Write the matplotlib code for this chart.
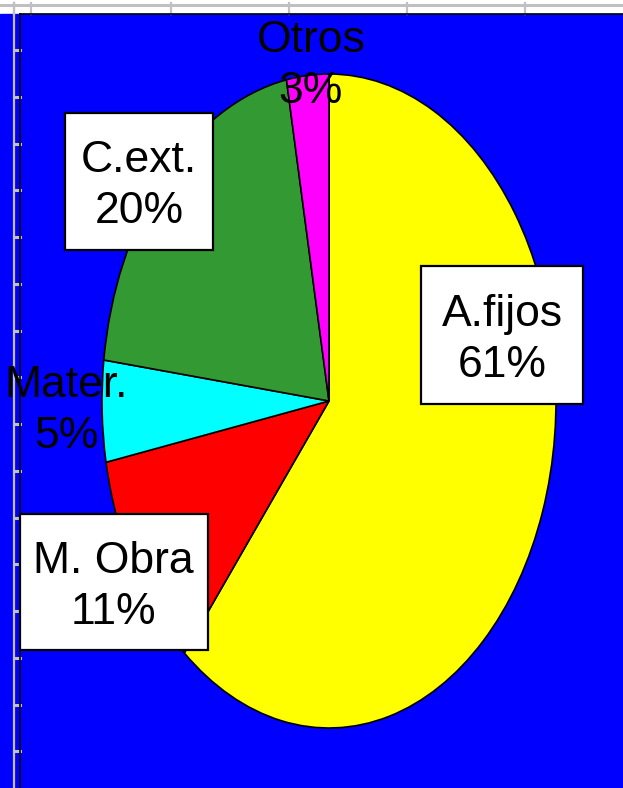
import matplotlib
matplotlib.use("Agg")
import matplotlib.pyplot as plt

# data
categories = ["A.fijos", "M. Obra", "Mater.", "C.ext.", "Otros"]
shares = [61, 11, 5, 20, 3]
slice_colors = ["#FFFF00", "#FF0000", "#00FFFF", "#339933", "#FF00FF"]

# label anchor points / box sizes in screen pixels (layout only)
label_xy = [(502, 340), (113, 587), (66, 411), (139, 186), (311, 66)]
box_wh = [(162, 138), (188, 136), None, (148, 137), None]
box_xy = [(502, 335), (114, 582), None, (139, 181), None]

W, H = 623, 788
CX, CY, RX, RY = 329, 401, 227, 327   # ellipse centre / radii in pixels
FONT = ["Liberation Sans", "DejaVu Sans"]

fig = plt.figure(figsize=(W / 100, H / 100), dpi=100)

# spreadsheet chrome behind the chart
bg = fig.add_axes([0, 0, 1, 1])
bg.set_xlim(0, W)
bg.set_ylim(H, 0)
bg.axis("off")
bg.add_patch(plt.Rectangle((0, 0), W, 14, color="white", zorder=0))
bg.add_patch(plt.Rectangle((0, 14), W, H - 14, color="#0000FF", zorder=0))
bg.plot([0, W], [5, 5], color="#C0C0C0", lw=2.2, zorder=1)
for gx in [14, 31, 171, 289, 407, 525]:
    bg.plot([gx, gx], [3, 14], color="#C0C0C0", lw=1.6, zorder=1)
bg.plot([14, 14], [3, H], color="#C0C0C0", lw=1.6, zorder=1)
ty = 50
while ty < H:
    bg.plot([14, 20], [ty, ty], color="#C0C0C0", lw=2.2, zorder=1)
    ty += 46.75
bg.plot([20, 20], [14, H], color="black", lw=1.2, zorder=2)
bg.plot([20, W], [14, 14], color="black", lw=1.2, zorder=2)

# stretched pie
ax = fig.add_axes([0, 0, 1, 1])
ax.patch.set_alpha(0)
ax.pie(shares, colors=slice_colors, startangle=90, counterclock=False,
       wedgeprops=dict(edgecolor="black", linewidth=1.2))
ax.set_aspect("auto")
ax.set_xlim(-CX / RX, (W - CX) / RX)
ax.set_ylim((CY - H) / RY, CY / RY)
ax.axis("off")

for name, pct, (lx, ly), wh, bxy in zip(categories, shares, label_xy,
                                         box_wh, box_xy):
    if wh is not None:
        bw, bh = wh
        bx, by = bxy
        ax.add_patch(plt.Rectangle((bx - bw / 2, by - bh / 2), bw, bh,
                                   facecolor="white", edgecolor="black",
                                   linewidth=1.6, transform=bg.transData,
                                   zorder=5))
    ax.text(lx, ly, f"{name}\n{pct}%", transform=bg.transData,
            ha="center", va="center", fontsize=32, family=FONT,
            linespacing=1.3, color="black", zorder=6)

fig.savefig("out.png", dpi=100)
